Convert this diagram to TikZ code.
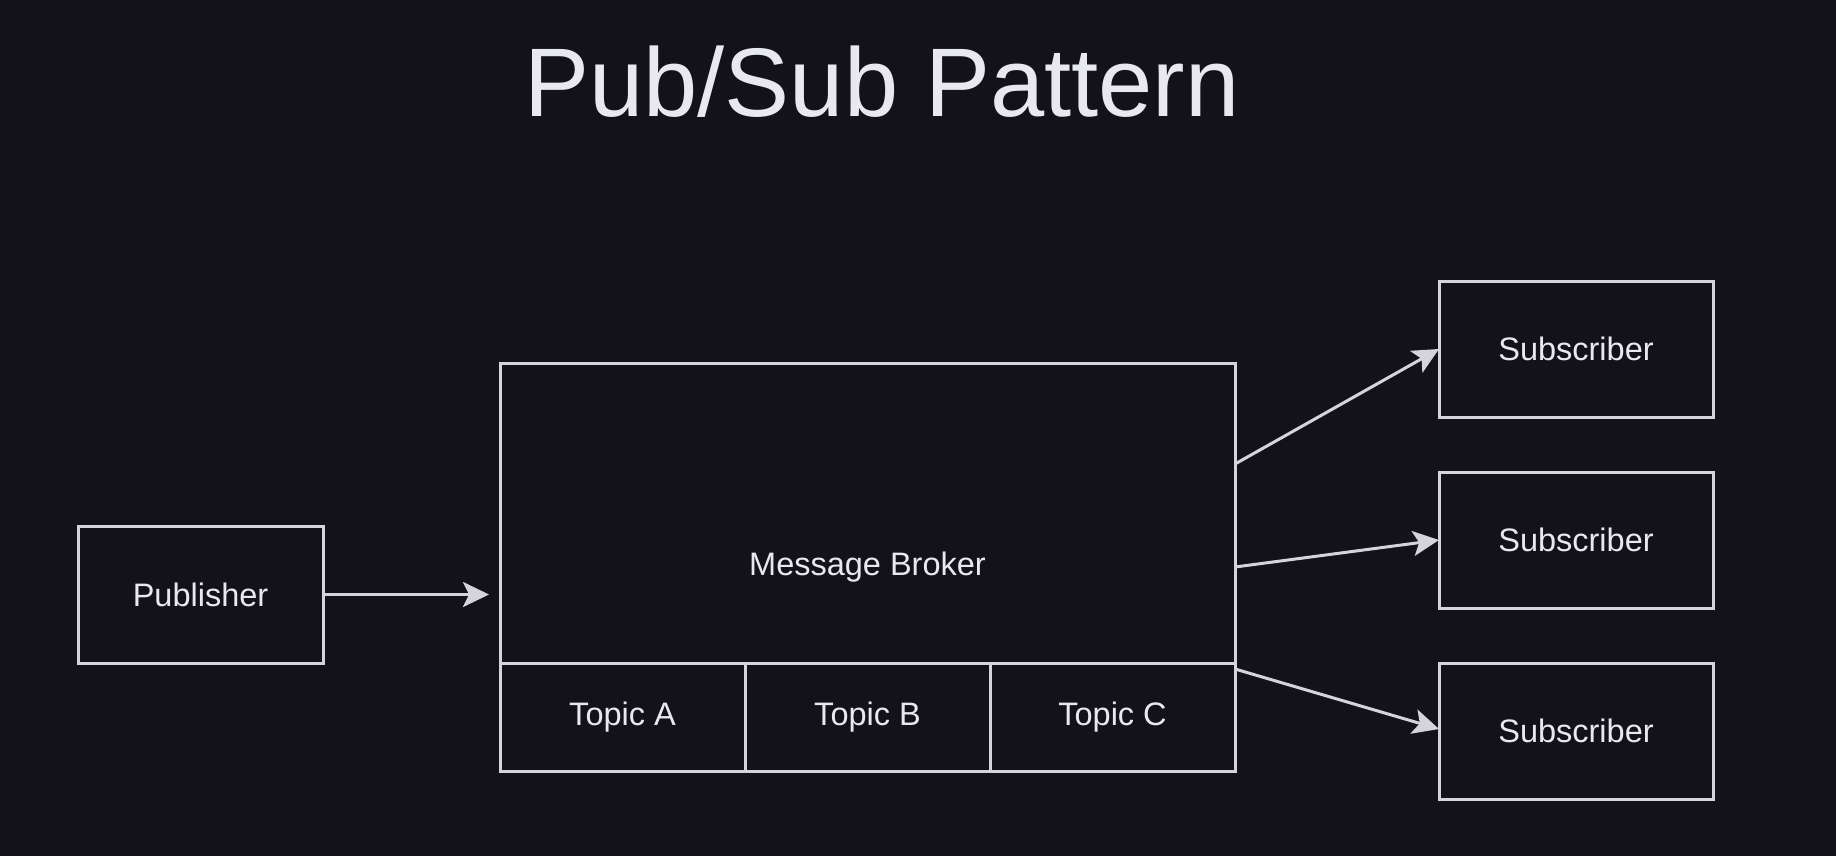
\documentclass[tikz,border=0pt]{standalone}
\usepackage{fontspec}
\setmainfont{Liberation Sans}
\usetikzlibrary{arrows.meta}
\definecolor{bgc}{RGB}{19,18,27}
\definecolor{linec}{RGB}{212,212,220}
\definecolor{textc}{RGB}{232,232,240}
\begin{document}
\begin{tikzpicture}[x=1pt,y=-1pt,
  box/.style={draw=linec,line width=3pt,rectangle,inner sep=0pt,outer sep=0pt,text=textc,font=\fontsize{32.5}{38}\selectfont},
  lbl/.style={text=textc,inner sep=0pt,font=\fontsize{32.5}{38}\selectfont},
  conn/.style={draw=linec,line width=3pt,-{Stealth[length=26pt,width=25pt,inset=6pt]}}]
\fill[bgc] (0,0) rectangle (1836,856);
\useasboundingbox (0,0) rectangle (1836,856);
% title
\node[anchor=base,text=textc,inner sep=0pt,font=\fontsize{97.5}{110}\selectfont] (title) at (882,117) {Pub/Sub Pattern};
% publisher
\node[box,minimum width=245pt,minimum height=137pt] (pub) at (200.5,594.5) {Publisher};
% broker
\node[box,minimum width=735pt,minimum height=300pt] (broker) at (867.5,513) {};
\node[lbl] (brokerlabel) at (867.5,567) {Message Broker};
\node[box,minimum width=245pt,minimum height=108pt] (ta) at (622.5,717) {Topic A};
\node[box,minimum width=245pt,minimum height=108pt] (tb) at (867.5,717) {Topic B};
\node[box,minimum width=245pt,minimum height=108pt] (tc) at (1112.5,717) {Topic C};
% subscribers
\node[box,minimum width=274pt,minimum height=136pt] (s1) at (1576,349) {Subscriber};
\node[box,minimum width=274pt,minimum height=136pt] (s2) at (1576,540) {Subscriber};
\node[box,minimum width=274pt,minimum height=136pt] (s3) at (1576,731) {Subscriber};
% connectors
\coordinate (b1) at ([yshift=49pt]broker.east);
\coordinate (b2) at ([yshift=-54pt]broker.east);
\coordinate (b3) at ([yshift=-6pt]tc.north east);
\draw[conn,shorten >=11pt] (pub.east) -- (pub.east -| broker.west);
\draw[conn] (b1) -- (s1.west);
\draw[conn] (b2) -- (s2.west);
\draw[conn] (b3) -- ([yshift=2pt]s3.west);
\end{tikzpicture}
\end{document}
